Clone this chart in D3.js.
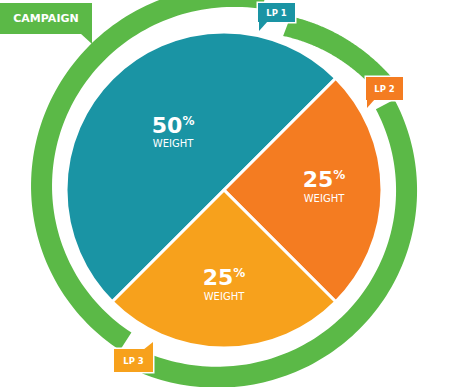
<!DOCTYPE html>
<html>
<head>
<meta charset="utf-8">
<script src="https://cdn.jsdelivr.net/npm/d3@7"></script>
<style>
  body { margin: 0; background: #fff; }
  svg { display: block; }
</style>
</head>
<body>
<div id="chart"></div>
<script>
// chart data
var pages = ["LP 1", "LP 2", "LP 3"];
var weights = [50, 25, 25];
var weightLabel = "WEIGHT";
var campaignLabel = "CAMPAIGN";

var colors = ["#1a94a4", "#f47c21", "#f7a11c"];
var green = "#5bb947";

var svgWidth = 450;
var svgHeight = 387;
var cx = 224, cy = 190;
var pieRadius = 158;
var deg = Math.PI / 180;

var svg = d3.select("#chart")
    .append("svg")
    .attr("width", svgWidth)
    .attr("height", svgHeight);

var g = svg.append("g")
    .attr("transform", `translate(${cx}, ${cy})`);

// outer green ring, three spiral-ish pieces (start deg, end deg, inner r start, inner r end, easing power)
var ringParts = [
    [213, 372, 170, 185, 2],
    [21, 56, 165, 181, 1],
    [62, 204, 172, 180, 3]
];
var ringWidth = 21;

ringParts.forEach(function(p) {
    var a = d3.scaleLinear().domain([0, 1]).range([p[0] * deg, p[1] * deg]);
    var r = d3.scalePow().exponent(p[4]).domain([0, 1]).range([p[2], p[3]]);
    var area = d3.areaRadial()
        .angle(t => a(t))
        .innerRadius(t => r(t))
        .outerRadius(t => r(t) + ringWidth)
        .curve(d3.curveLinear);
    g.append("path")
        .attr("d", area(d3.range(0, 1.0001, 0.01)))
        .attr("fill", green);
});

// pie
var pie = d3.pie()
    .sort(null)
    .startAngle(-135 * deg)
    .endAngle(225 * deg);

var arc = d3.arc().innerRadius(0).outerRadius(pieRadius);

var slices = g.selectAll(".slice")
    .data(pie(weights))
    .enter()
    .append("path")
    .attr("class", "slice")
    .attr("d", arc)
    .attr("fill", (d, i) => colors[i])
    .attr("stroke", "#fff")
    .attr("stroke-width", 3)
    .attr("stroke-linejoin", "round");

// slice labels
var labelR = [72, 100, 98];
var labels = g.selectAll(".lbl")
    .data(pie(weights))
    .enter()
    .append("g")
    .attr("class", "lbl")
    .attr("transform", function(d, i) {
        var c = d3.arc().innerRadius(labelR[i]).outerRadius(labelR[i]).centroid(d);
        return `translate(${c[0]}, ${c[1]})`;
    });

var pct = labels.append("text")
    .attr("y", (d, i) => i == 0 ? -6 : -3)
    .attr("text-anchor", "middle")
    .attr("fill", "#fff")
    .attr("font-family", "DejaVu Sans, sans-serif")
    .attr("font-weight", "bold")
    .attr("font-size", 22);
pct.append("tspan").text(d => d.data);
pct.append("tspan")
    .attr("font-size", 12)
    .attr("dy", -8)
    .text("%");

labels.append("text")
    .attr("y", (d, i) => i == 0 ? 8 : 12)
    .attr("text-anchor", "middle")
    .attr("fill", "#fff")
    .attr("font-family", "DejaVu Sans, sans-serif")
    .attr("font-size", 10)
    .text(weightLabel);

// callout boxes: x, y, w, h, tail points
var callouts = [
    { text: campaignLabel, fill: green, box: [0, 3, 92, 31], tail: [[80, 33], [92, 44], [92, 33]], size: 11, border: 0 },
    { text: pages[0], fill: colors[0], box: [258, 3, 37, 19], tail: [[259, 21], [259, 31], [268, 21]], size: 8.5, border: 1.5 },
    { text: pages[1], fill: colors[1], box: [366, 77, 37, 23], tail: [[367, 99], [367, 108], [375, 99]], size: 8.5, border: 1.5 },
    { text: pages[2], fill: colors[2], box: [114, 349, 39, 23], tail: [[143, 350], [153, 342], [153, 350]], size: 8.5, border: 1.5 }
];

callouts.forEach(function(c) {
    var cg = svg.append("g");
    var b = c.box;
    if (c.border) {
        cg.append("rect")
            .attr("x", b[0]).attr("y", b[1])
            .attr("width", b[2]).attr("height", b[3])
            .attr("fill", "none")
            .attr("stroke", "#fff")
            .attr("stroke-width", c.border * 2);
        cg.append("path")
            .attr("d", d3.line()(c.tail) + "Z")
            .attr("fill", "none")
            .attr("stroke", "#fff")
            .attr("stroke-width", c.border * 2);
    }
    cg.append("rect")
        .attr("x", b[0]).attr("y", b[1])
        .attr("width", b[2]).attr("height", b[3])
        .attr("fill", c.fill);
    cg.append("path")
        .attr("d", d3.line()(c.tail) + "Z")
        .attr("fill", c.fill);
    cg.append("text")
        .attr("x", b[0] + b[2] / 2)
        .attr("y", b[1] + b[3] / 2 + c.size * 0.36)
        .attr("text-anchor", "middle")
        .attr("fill", "#fff")
        .attr("font-family", "DejaVu Sans, sans-serif")
        .attr("font-weight", "bold")
        .attr("font-size", c.size)
        .text(c.text);
});
</script>
</body>
</html>
